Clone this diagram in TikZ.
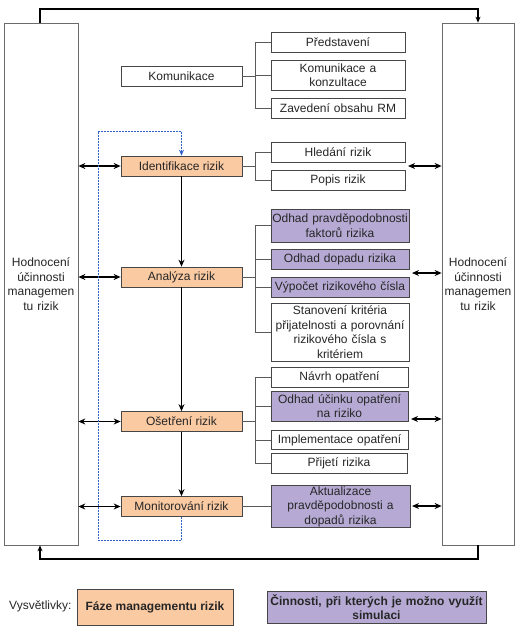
\documentclass[tikz,border=0pt]{standalone}
\usepackage{fontspec}
\setmainfont{Liberation Sans}
\usetikzlibrary{arrows.meta}
\definecolor{phasefill}{RGB}{250,202,162}
\definecolor{simfill}{RGB}{182,170,212}
\definecolor{boxline}{RGB}{70,70,70}
\definecolor{bracketline}{RGB}{90,90,90}
\definecolor{dashblue}{RGB}{50,100,200}
\begin{document}
\begin{tikzpicture}[x=1pt,y=-1pt,
  every node/.style={font=\fontsize{12}{14.5}\selectfont, inner sep=1pt, align=center, text=black!85},
  plainbox/.style={draw=boxline, line width=0.7pt, fill=white, text width=#1-4pt},
  plainbox/.default=136pt,
  phasebox/.style={draw=boxline, line width=0.7pt, fill=phasefill, minimum width=121pt, minimum height=20pt},
  simbox/.style={draw=boxline, line width=0.7pt, fill=simfill, text width=#1-4pt},
  simbox/.default=140pt,
  bigbox/.style={draw=boxline!80, line width=0.7pt, fill=white, minimum height=522pt},
  brk/.style={draw=bracketline, line width=0.6pt},
  flow/.style={draw=black, line width=1.2pt, -{Stealth[length=7pt,width=6pt]}},
  dbl/.style={draw=black, line width=1.2pt, {Stealth[length=7pt,width=6pt]}-{Stealth[length=7pt,width=6pt]}},
  loopline/.style={draw=black, line width=1.2pt, -{Stealth[length=6pt,width=5pt]}},
  dashloop/.style={draw=dashblue, line width=0.8pt, dash pattern=on 1.8pt off 1.2pt, -{Stealth[length=6pt,width=5pt]}}
]
\useasboundingbox (0,0) rectangle (525,632);

% big side boxes
\node[bigbox, minimum width=74pt, text width=70pt] (L) at (41,284) {Hodnocení\\účinnosti\\managemen\\tu rizik};
\node[bigbox, minimum width=72pt, text width=70pt] (R) at (478,284) {Hodnocení\\účinnosti\\managemen\\tu rizik};

% loops top and bottom
\coordinate (tl) at (40,9);
\coordinate (bl) at (40,559);
\draw[loopline] (L.north -| tl) -- (tl) -| (R.north);
\draw[loopline] (R.south) |- (bl) -- (L.south -| bl);

% Komunikace group
\node[draw=boxline, line width=0.7pt, fill=white, minimum width=121pt, minimum height=20pt] (kom) at (181.5,76) {Komunikace};
\node[plainbox, minimum height=20pt] (pre) at (338,42) {Představení};
\node[plainbox, minimum height=30pt] (kak) at (338,75) {Komunikace a\\konzultace};
\node[plainbox, minimum height=20pt] (zav) at (338,108) {Zavedení obsahu RM};
\coordinate (kb) at (255,76);
\draw[brk] (kom.east) -- (kb);
\draw[brk] (pre.west) -| (kb);
\draw[brk] (zav.west) -| (kb);
\draw[brk] (kak.west) -- (kak.west -| kb);

% phases
\node[phasebox] (ide) at (181.5,166) {Identifikace rizik};
\node[phasebox] (ana) at (181.5,277) {Analýza rizik};
\node[phasebox] (ose) at (181.5,421.5) {Ošetření rizik};
\node[phasebox] (mon) at (181.5,506.5) {Monitorování rizik};

% Identifikace group
\node[plainbox, minimum height=20pt] (hle) at (338,152) {Hledání rizik};
\node[plainbox, minimum height=20pt] (pop) at (338,180) {Popis rizik};
\coordinate (ib) at (255,166);
\draw[brk] (ide.east) -- (ib);
\draw[brk] (hle.west) -| (ib);
\draw[brk] (pop.west) -| (ib);

% Analyza group
\node[simbox, minimum height=33pt] (opf) at (340,225.5) {Odhad pravděpodobnosti\\faktorů rizika};
\node[simbox, minimum height=20pt] (odr) at (340,259.5) {Odhad dopadu rizika};
\node[simbox, minimum height=20pt] (vyp) at (340,287) {Výpočet rizikového čísla};
\node[plainbox=140pt, minimum height=58pt] (sta) at (340,332) {Stanovení kritéria\\přijatelnosti a porovnání\\rizikového čísla s\\kritériem};
\coordinate (ab) at (255,277);
\draw[brk] (ana.east) -- (ab);
\draw[brk] (opf.west) -| (ab);
\draw[brk] (sta.west) -| (ab);
\draw[brk] (odr.west) -- (odr.west -| ab);
\draw[brk] (vyp.west) -- (vyp.west -| ab);

% Osetreni group
\node[plainbox=139pt, minimum height=20pt] (nav) at (339.5,377) {Návrh opatření};
\node[simbox=139pt, minimum height=30pt] (ouo) at (339.5,406) {Odhad účinku opatření\\na riziko};
\node[plainbox=139pt, minimum height=19pt] (imp) at (339.5,440) {Implementace opatření};
\node[plainbox=138pt, minimum height=20pt] (pri) at (339,463) {Přijetí rizika};
\coordinate (ob) at (255,421.5);
\draw[brk] (ose.east) -- (ob);
\draw[brk] (nav.west) -| (ob);
\draw[brk] (pri.west) -| (ob);
\draw[brk] (ouo.west) -- (ouo.west -| ob);
\draw[brk] (imp.west) -- (imp.west -| ob);

% Monitorovani group
\node[simbox=141pt, minimum height=41pt] (akt) at (340.5,506.5) {Aktualizace\\pravděpodobnosti a\\dopadů rizika};
\draw[brk] (mon.east) -- (akt.west);

% flow arrows
\draw[flow] (ide.south) -- (ana.north);
\draw[flow] (ana.south) -- (ose.north);
\draw[flow] (ose.south) -- (mon.north);

% left double arrows
\draw[dbl] (ide.west -| L.east) -- (ide.west);
\draw[dbl] (ana.west -| L.east) -- (ana.west);
\draw[dbl] (ose.west -| L.east) -- (ose.west);
\draw[dbl] (mon.west -| L.east) -- (mon.west);

% right double arrows
\coordinate (r1) at (408,166);
\coordinate (r2) at (412,273);
\coordinate (r3) at (411,419);
\coordinate (r4) at (412,506);
\draw[dbl] (r1) -- (r1 -| R.west);
\draw[dbl] (r2) -- (r2 -| R.west);
\draw[dbl] (r3) -- (r3 -| R.west);
\draw[dbl] (r4) -- (r4 -| R.west);

% dashed feedback loop
\coordinate (dbtm) at (98,540);
\coordinate (dtop) at (98,131);
\draw[dashloop] (mon.south) |- (dbtm) -- (dtop) -| (ide.north);

% legend
\node[anchor=west] (vys) at (8,606) {Vysvětlivky:};
\node[draw=boxline, line width=0.7pt, fill=phasefill, minimum width=156pt, minimum height=36pt, font=\fontsize{12}{14}\selectfont\bfseries] (lg1) at (155,607) {Fáze managementu rizik};
\node[draw=boxline, line width=0.7pt, fill=simfill, minimum width=219pt, minimum height=32pt, text width=216pt, font=\fontsize{12}{14}\selectfont\bfseries] (lg2) at (376.5,607) {Činnosti, při kterých je možno využít\\simulaci};
\end{tikzpicture}
\end{document}
